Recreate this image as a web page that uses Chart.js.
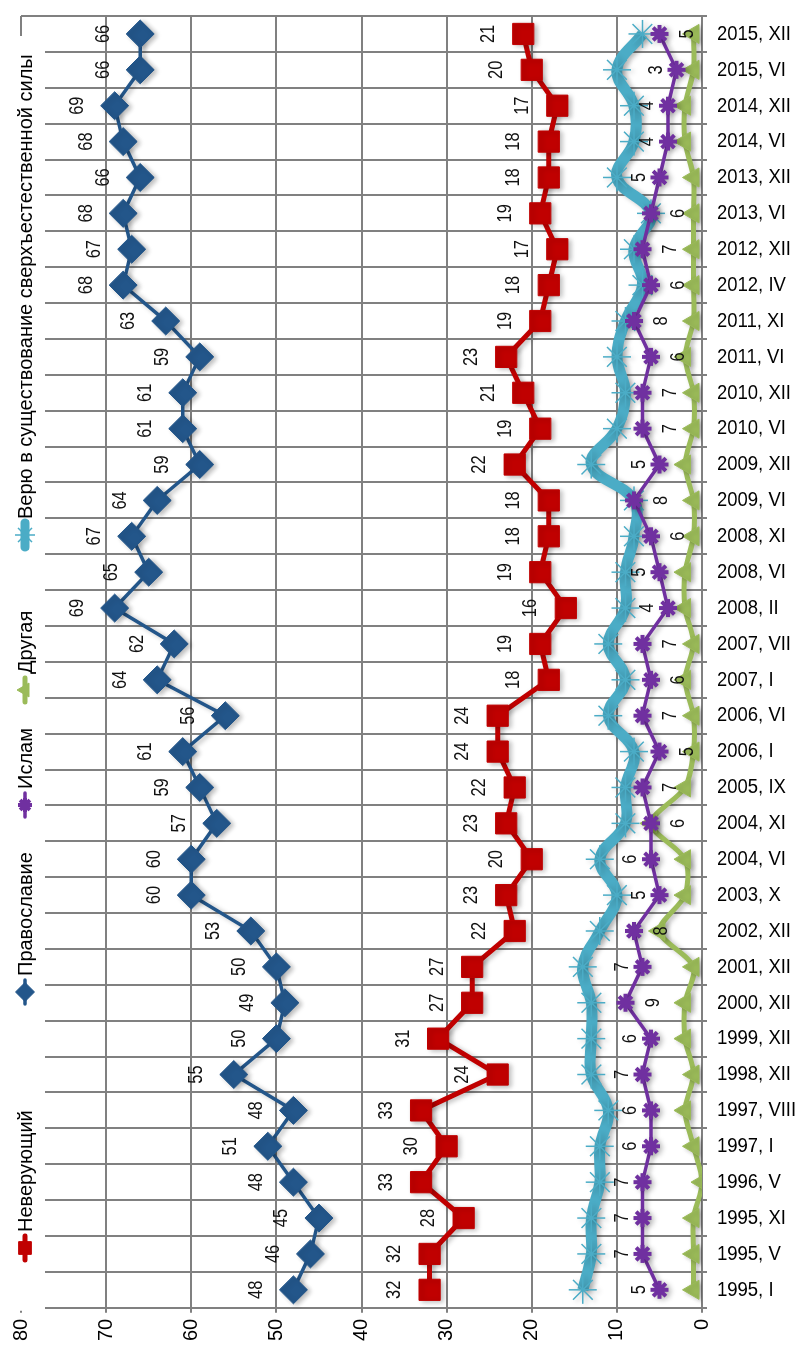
<!DOCTYPE html>
<html>
<head>
<meta charset="utf-8">
<title>Религиозная самоидентификация</title>
<script src="https://cdn.jsdelivr.net/npm/chart.js@4.4.1/dist/chart.umd.min.js"></script>
<style>
  html, body { margin: 0; padding: 0; overflow: hidden; background: #fff; width: 798px; height: 1362px; }
  /* the chart is drawn lying on its side, then turned a quarter turn to the left */
  #wrap { position: absolute; left: 0; top: 0; width: 1362px; height: 798px;
          transform-origin: 0 0; transform: translateY(1362px) rotate(-90deg); }
</style>
</head>
<body>
<div id="wrap"><canvas id="chart" width="1362" height="798"></canvas></div>
<script>
const categories = ['1995, I', '1995, V', '1995, XI', '1996, V', '1997, I', '1997, VIII', '1998, XII',
  '1999, XII', '2000, XII', '2001, XII', '2002, XII', '2003, X', '2004, VI', '2004, XI', '2005, IX',
  '2006, I', '2006, VI', '2007, I', '2007, VII', '2008, II', '2008, VI', '2008, XI', '2009, VI',
  '2009, XII', '2010, VI', '2010, XII', '2011, VI', '2011, XI', '2012, IV', '2012, XII', '2013, VI',
  '2013, XII', '2014, VI', '2014, XII', '2015, VI', '2015, XII'];

const nonBelievers = [32, 32, 28, 33, 30, 33, 24, 31, 27, 27, 22, 23, 20, 23, 22, 24, 24, 18,
  19, 16, 19, 18, 18, 22, 19, 21, 23, 19, 18, 17, 19, 18, 18, 17, 20, 21];
const orthodox = [48, 46, 45, 48, 51, 48, 55, 50, 49, 50, 53, 60, 60, 57, 59, 61, 56, 64,
  62, 69, 65, 67, 64, 59, 61, 61, 59, 63, 68, 67, 68, 66, 68, 69, 66, 66];
const islam = [5, 7, 7, 7, 6, 6, 7, 6, 9, 7, 8, 5, 6, 6, 7, 5, 7, 6,
  7, 4, 5, 6, 8, 5, 7, 7, 6, 8, 6, 7, 6, 5, 4, 4, 3, 5];
const otherFaith = [1, 1, 1, 0, 1, 2, 1, 2, 2, 1, 5, 2, 2, 6, 2, 1, 1, 2,
  1, 2, 2, 1, 1, 2, 1, 1, 2, 1, 1, 1, 1, 1, 2, 2, 1, 1];
const supernatural = [14, 13, 13, 12, 12, 11, 13, 13, 13, 14, 12, 10, 12, 9, 9, 8, 11, 9,
  11, 9, 9, 8, 8, 13, 10, 9, 10, 9, 7, 8, 6, 10, 8, 8, 10, 7];

const valueMin = 0;
const valueMax = 80;
const valueStep = 10;

// where the Islam labels sit: 0 = above the point, 1 = below
const islamLabelBelow = [0, 0, 0, 0, 0, 0, 0, 0, 1, 0, 1, 0, 0, 1, 1, 1, 1, 1,
  1, 0, 0, 1, 1, 0, 1, 1, 1, 1, 1, 1, 1, 0, 0, 0, 0, 1];

const FONT = '"Liberation Sans", Arial, sans-serif';
const GRID = '#808080';
const NARROW = 0.88; // squeeze for the narrow label face of the original

// legend entries: where each symbol sits along the top strip, and its marker size
const legendX = [114, 370, 557, 672, 827];
const legendMarker = [9, 9.5, 7, 8, 10];

// soft drop shadow under every series, like the Excel original
const seriesShadow = {
  id: 'seriesShadow',
  beforeDatasetDraw(chart) {
    const ctx = chart.ctx;
    ctx.save();
    ctx.shadowColor = 'rgba(0, 0, 0, 0.28)';
    ctx.shadowBlur = 5;
    ctx.shadowOffsetX = -1.5;
    ctx.shadowOffsetY = 3;
  },
  afterDatasetDraw(chart) {
    chart.ctx.restore();
  }
};

// legend laid over the top strip of the plot on a white band, Excel style (line + marker)
const overlayLegend = {
  id: 'overlayLegend',
  beforeDatasetsDraw(chart) {
    const ctx = chart.ctx;
    const a = chart.chartArea;
    const drawPoint = Chart.helpers && Chart.helpers.drawPoint;
    const y = 25;
    ctx.save();
    ctx.fillStyle = '#fff';
    ctx.fillRect(a.left - 3, a.top - 3, a.right - 20 - (a.left - 3), 45 - (a.top - 3));
    ctx.font = '20px ' + FONT;
    ctx.textBaseline = 'middle';
    ctx.textAlign = 'left';
    chart.data.datasets.forEach((ds, i) => {
      const x = legendX[i];
      ctx.strokeStyle = ds.borderColor;
      ctx.fillStyle = ds.backgroundColor;
      ctx.lineWidth = Math.min(ds.borderWidth, 9);
      ctx.lineCap = 'round';
      ctx.beginPath();
      ctx.moveTo(x - 12, y);
      ctx.lineTo(x + 12, y);
      ctx.stroke();
      ctx.lineCap = 'butt';
      ctx.lineWidth = ds.pointBorderWidth;
      if (drawPoint) {
        drawPoint(ctx, { pointStyle: ds.pointStyle, radius: legendMarker[i], borderWidth: ds.pointBorderWidth, rotation: 0 }, x, y);
      }
      ctx.fillStyle = '#000';
      ctx.fillText(ds.label, x + 16, y + 1);
    });
    ctx.restore();
  }
};

// category names, turned so they read across once the page is rotated
const categoryLabels = {
  id: 'categoryLabels',
  afterDraw(chart) {
    const ctx = chart.ctx;
    const xs = chart.scales.x;
    ctx.save();
    ctx.font = '21px ' + FONT;
    ctx.fillStyle = '#000';
    ctx.textAlign = 'left';
    ctx.textBaseline = 'middle';
    categories.forEach((c, i) => {
      ctx.save();
      ctx.translate(xs.getPixelForValue(i), chart.chartArea.bottom + 15);
      ctx.rotate(Math.PI / 2);
      ctx.scale(NARROW, 1);
      ctx.fillText(c, 0, 0);
      ctx.restore();
    });
    ctx.restore();
  }
};

// value labels for the first three series
const valueLabels = {
  id: 'valueLabels',
  afterDatasetsDraw(chart) {
    const ctx = chart.ctx;
    ctx.save();
    ctx.font = '20px ' + FONT;
    ctx.fillStyle = '#111';
    ctx.textAlign = 'center';
    ctx.textBaseline = 'middle';
    [0, 1, 2].forEach(di => {
      const meta = chart.getDatasetMeta(di);
      const values = chart.data.datasets[di].data;
      meta.data.forEach((pt, i) => {
        let dy = di === 0 ? -35 : -37;
        if (di === 2) dy = islamLabelBelow[i] ? 28 : -20;
        ctx.save();
        ctx.translate(pt.x, pt.y + dy);
        ctx.scale(0.82, 1);
        ctx.fillText(String(values[i]), 0, 0);
        ctx.restore();
      });
    });
    ctx.restore();
  }
};

new Chart(document.getElementById('chart'), {
  type: 'line',
  data: {
    labels: categories,
    datasets: [
      {
        label: 'Неверующий',
        data: nonBelievers,
        borderColor: '#c00000',
        backgroundColor: '#c00000',
        borderWidth: 5,
        pointStyle: 'rect',
        pointRadius: 15,
        pointBorderWidth: 1,
        tension: 0
      },
      {
        label: 'Православие',
        data: orthodox,
        borderColor: '#23568a',
        backgroundColor: '#23568a',
        borderWidth: 3.5,
        pointStyle: 'rectRot',
        pointRadius: 14,
        pointBorderWidth: 1,
        tension: 0
      },
      {
        label: 'Ислам',
        data: islam,
        borderColor: '#7030a0',
        backgroundColor: '#7030a0',
        borderWidth: 3.5,
        pointStyle: 'star',
        pointRadius: 9,
        pointBorderWidth: 4,
        tension: 0
      },
      {
        label: 'Другая',
        data: otherFaith,
        borderColor: '#9bbb59',
        backgroundColor: '#9bbb59',
        borderWidth: 5,
        pointStyle: 'triangle',
        pointRadius: 11,
        pointBorderWidth: 1,
        tension: 0.3
      },
      {
        label: 'Верю в существование сверхъестественной силы',
        data: supernatural,
        borderColor: '#4bacc6',
        backgroundColor: '#4bacc6',
        borderWidth: 11,
        pointStyle: 'star',
        pointRadius: 14,
        pointBorderWidth: 1.5,
        tension: 0.4
      }
    ]
  },
  options: {
    responsive: false,
    animation: false,
    layout: { padding: { left: 15, right: 13, top: 21, bottom: 91 } },
    plugins: {
      legend: { display: false },
      tooltip: { enabled: false }
    },
    scales: {
      x: {
        type: 'category',
        offset: true,
        grid: { offset: true, color: GRID, lineWidth: 2, tickLength: 5, z: -1 },
        border: { color: GRID, width: 2 },
        ticks: { display: false }
      },
      y: {
        min: valueMin,
        max: valueMax,
        grid: { color: GRID, lineWidth: 2, tickLength: 5, z: -1 },
        border: { color: GRID, width: 2 },
        ticks: {
          stepSize: valueStep,
          padding: 6,
          color: '#000',
          font: { family: FONT, size: 20 }
        }
      }
    }
  },
  plugins: [seriesShadow, overlayLegend, categoryLabels, valueLabels]
});
</script>
</body>
</html>
